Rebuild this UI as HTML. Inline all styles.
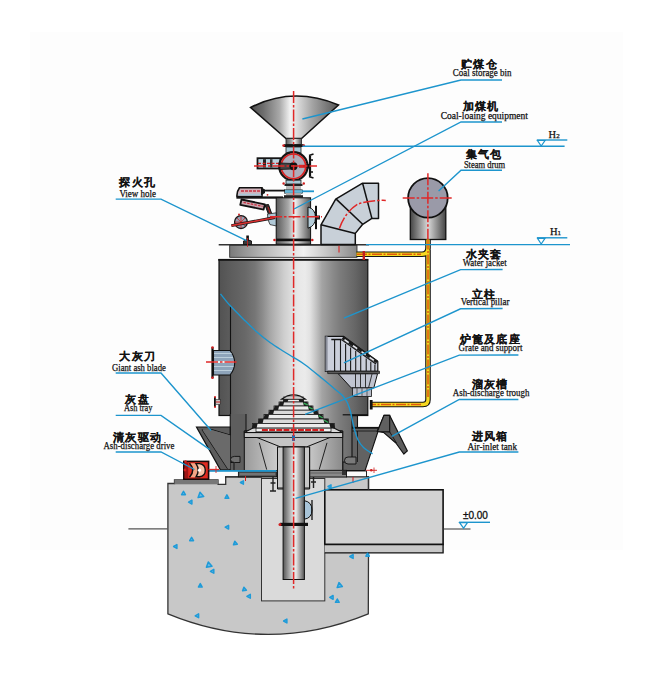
<!DOCTYPE html>
<html><head><meta charset="utf-8">
<style>
html,body{margin:0;padding:0;background:#fff;}
body{width:654px;height:680px;overflow:hidden;}
svg{display:block;}
.cn{font-family:"Liberation Sans",sans-serif;font-weight:bold;font-size:10.8px;letter-spacing:1.3px;fill:#111;stroke:#111;stroke-width:0.1;}
.en{font-family:"Liberation Serif",serif;font-size:10px;fill:#111;stroke:#111;stroke-width:0.25;}
.ld{stroke:#1d95cd;stroke-width:1.4;fill:none;}
.k{stroke:#111;fill:none;}
.cl{stroke:#e02828;stroke-width:1.5;stroke-dasharray:12 2 2.5 2;fill:none;}
</style></head>
<body>
<svg width="654" height="680" viewBox="0 0 654 680">
<defs>
 <linearGradient id="gCyl" x1="219" y1="0" x2="368" y2="0" gradientUnits="userSpaceOnUse">
  <stop offset="0.000" stop-color="#525252"/>
  <stop offset="0.074" stop-color="#5c5c5c"/>
  <stop offset="0.174" stop-color="#686868"/>
  <stop offset="0.242" stop-color="#767676"/>
  <stop offset="0.289" stop-color="#8a8a8a"/>
  <stop offset="0.342" stop-color="#a6a6a6"/>
  <stop offset="0.383" stop-color="#b8b8b8"/>
  <stop offset="0.436" stop-color="#cecece"/>
  <stop offset="0.483" stop-color="#dcdcdc"/>
  <stop offset="0.530" stop-color="#e8e8e8"/>
  <stop offset="0.577" stop-color="#ebebeb"/>
  <stop offset="0.611" stop-color="#e2e2e2"/>
  <stop offset="0.651" stop-color="#c4c4c4"/>
  <stop offset="0.691" stop-color="#a4a4a4"/>
  <stop offset="0.765" stop-color="#8a8a8a"/>
  <stop offset="0.812" stop-color="#7c7c7c"/>
  <stop offset="0.913" stop-color="#666666"/>
  <stop offset="1.000" stop-color="#4e4e4e"/>
 </linearGradient>
 <linearGradient id="gHop" x1="250" y1="0" x2="339" y2="0" gradientUnits="userSpaceOnUse">
  <stop offset="0.000" stop-color="#4a4a4a"/>
  <stop offset="0.150" stop-color="#6e6e6e"/>
  <stop offset="0.330" stop-color="#a8a8a8"/>
  <stop offset="0.450" stop-color="#f2f2f2"/>
  <stop offset="0.500" stop-color="#e6e6e6"/>
  <stop offset="0.700" stop-color="#a4a4a4"/>
  <stop offset="0.880" stop-color="#747474"/>
  <stop offset="1.000" stop-color="#555555"/>
 </linearGradient>
 <linearGradient id="gSm" x1="0" y1="0" x2="1" y2="0">
  <stop offset="0" stop-color="#5a5a5a"/>
  <stop offset="0.35" stop-color="#a8a8a8"/>
  <stop offset="0.55" stop-color="#eeeeee"/>
  <stop offset="0.8" stop-color="#9a9a9a"/>
  <stop offset="1" stop-color="#555"/>
 </linearGradient>
 <linearGradient id="gPlate" x1="0" y1="0" x2="1" y2="0">
  <stop offset="0" stop-color="#7a7a7a"/>
  <stop offset="0.25" stop-color="#b4b4b4"/>
  <stop offset="0.58" stop-color="#f2f2f2"/>
  <stop offset="0.85" stop-color="#b0b0b0"/>
  <stop offset="1" stop-color="#888888"/>
 </linearGradient>
 <linearGradient id="gPipe" x1="0" y1="0" x2="1" y2="0">
  <stop offset="0" stop-color="#555"/>
  <stop offset="0.45" stop-color="#d8d8d8"/>
  <stop offset="0.6" stop-color="#e8e8e8"/>
  <stop offset="1" stop-color="#555"/>
 </linearGradient>
 <linearGradient id="gDrum" x1="0" y1="0" x2="1" y2="0">
  <stop offset="0" stop-color="#444"/>
  <stop offset="0.5" stop-color="#d8d8d8"/>
  <stop offset="1" stop-color="#444"/>
 </linearGradient>
 <linearGradient id="gAsh" x1="0" y1="0" x2="1" y2="0">
  <stop offset="0" stop-color="#9a9a9a"/>
  <stop offset="0.5" stop-color="#e4e4e4"/>
  <stop offset="1" stop-color="#8a8a8a"/>
 </linearGradient>
</defs>

<!-- faint background grid area -->
<rect x="30" y="32" width="593" height="518" fill="#fdfdfd"/>

<!-- ================= FOUNDATION ================= -->
<path d="M167.9,483.5 L174.5,483.5 L174.5,480 L218,480 L218,484.3 L225.7,484.3 L225.7,476.7 L368.5,476.7 L368.5,552.8 L368.3,613.8 Q268.1,655 167.9,613.8 Z" fill="#c8c8c8" stroke="#333" stroke-width="1.3"/>
<!-- drive base plate -->
<rect x="174.5" y="480" width="43.5" height="4.3" fill="#777"/>
<!-- inner pit -->
<rect x="261.5" y="478.5" width="63.3" height="122.4" fill="#dadada" stroke="#333" stroke-width="1"/>
<!-- horizontal air duct beam -->
<rect x="324.8" y="489.8" width="118.3" height="54.7" fill="#d2d2d2" stroke="#111" stroke-width="1.6"/>
<path d="M324.8,544.5 L443.1,544.5 L443.1,552.8 L324.8,552.8" fill="#c8c8c8" stroke="#111" stroke-width="1.3"/>
<line x1="368.5" y1="478" x2="368.5" y2="489.8" stroke="#333" stroke-width="1.3"/>
<!-- ground lines -->
<line x1="128.4" y1="528.9" x2="167.9" y2="528.9" stroke="#555" stroke-width="1.2"/>
<line x1="443.8" y1="529" x2="470.5" y2="529" stroke="#555" stroke-width="1.2"/>
<path d="M183.5,491.4 L185.4,494.7 L181.6,494.7 Z M200.0,492.2 L203.7,496.5 L198.1,497.5 Z M188.6,502.1 L191.9,500.2 L191.9,504.0 Z M226.9,494.9 L228.8,498.3 L225.0,498.3 Z M240.4,482.5 L243.4,480.8 L243.4,484.2 Z M225.2,527.2 L228.6,525.3 L228.6,529.1 Z M191.6,537.4 L193.5,540.7 L189.7,540.7 Z M173.6,546.5 L176.9,544.6 L176.9,548.4 Z M234.8,541.2 L237.3,544.2 L233.5,544.8 Z M208.3,561.9 L212.0,566.2 L206.4,567.2 Z M210.4,571.3 L213.8,569.4 L213.8,573.2 Z M200.3,583.6 L202.2,587.0 L198.4,587.0 Z M243.9,587.2 L246.4,590.2 L242.6,590.8 Z M246.9,596.3 L250.3,594.4 L250.3,598.2 Z M195.2,615.8 L198.6,613.9 L198.6,617.7 Z M283.6,621.0 L286.9,619.1 L286.9,622.9 Z M349.8,556.5 L353.1,554.6 L353.1,558.4 Z M367.6,553.2 L369.3,556.2 L365.9,556.2 Z M339.0,582.6 L342.3,586.6 L337.2,587.5 Z M329.8,597.4 L333.1,595.5 L333.1,599.3 Z M337.3,599.0 L339.2,602.3 L335.4,602.3 Z M328.0,486.5 L331.0,484.8 L331.0,488.2 Z" fill="#6ab8e4" stroke="#1f9bd8" stroke-width="1.5" stroke-linejoin="round"/>

<!-- ================= MAIN CYLINDER ================= -->
<rect x="219" y="259.5" width="148.8" height="156" fill="url(#gCyl)" stroke="#111" stroke-width="1.2"/>
<!-- left outer jacket strip -->
<line x1="230.5" y1="306" x2="230.5" y2="415" stroke="#111" stroke-width="1.1"/>

<!-- cover plate -->
<line x1="218.7" y1="244.8" x2="369" y2="244.8" stroke="#333" stroke-width="1.5"/>
<rect x="229.7" y="245.3" width="127.3" height="12" fill="url(#gPlate)" stroke="#222" stroke-width="0.8"/>
<line x1="218.3" y1="259.8" x2="368.2" y2="259.8" stroke="#111" stroke-width="1.8"/>

<!-- ================= HOPPER ================= -->
<path d="M250.5,107.5 Q293,86 338.5,105 L301.5,138.5 L286,138.5 Z" fill="url(#gHop)" stroke="#111" stroke-width="1.5"/>
<rect x="286" y="138.5" width="15.5" height="6" fill="url(#gSm)" stroke="#222" stroke-width="0.8"/>
<rect x="284" y="144.2" width="19.5" height="2.8" fill="#111"/>

<!-- ================= FEEDER ================= -->
<rect x="286" y="147" width="15" height="6" fill="#a9cad8" stroke="#222" stroke-width="0.8"/>
<circle cx="283.6" cy="145.6" r="1.3" fill="#d02020"/><circle cx="303.8" cy="145.6" r="1.3" fill="#d02020"/>
<!-- left actuator -->
<rect x="257.5" y="158.2" width="23" height="10.3" fill="#b8d2de" stroke="#151515" stroke-width="1.8"/>
<rect x="263" y="159.2" width="3" height="8.3" fill="#222"/>
<rect x="270" y="159.2" width="2.5" height="8.3" fill="#333"/>
<line x1="258" y1="163.4" x2="280" y2="163.4" stroke="#d02020" stroke-width="1.2" stroke-dasharray="3 1.5"/>
<circle cx="293.4" cy="166.3" r="14.2" fill="#aeaebc" stroke="#151515" stroke-width="2.2"/>
<circle cx="293.4" cy="166.3" r="12.3" fill="none" stroke="#d82020" stroke-width="1.7"/>
<path d="M280,163 L292,163.5 L292,169 L280,169.5 Z" fill="#444" stroke="#111" stroke-width="0.8"/>
<circle cx="293.5" cy="166.3" r="4" fill="#111"/>
<rect x="299" y="164.8" width="6" height="3" fill="#d02020"/>
<path d="M310,156 L310,176" stroke="#111" stroke-width="2.2"/>
<path d="M309,155.5 L313.5,154 M309,176.5 L313.5,178 M310,160 L313,160 M310,172 L313,172" stroke="#111" stroke-width="1.6"/>
<rect x="306.5" y="164" width="4" height="4.5" fill="#111"/>
<rect x="286" y="180.2" width="15" height="3.8" fill="#a9cad8" stroke="#222" stroke-width="0.8"/>
<rect x="284.5" y="184" width="18" height="2" fill="#222"/>
<rect x="286" y="186" width="15" height="3.8" fill="#b8b8b8"/>
<rect x="284.5" y="189.8" width="18" height="3.4" fill="#6ab8d8" stroke="#222" stroke-width="0.6"/>
<rect x="286" y="193" width="15" height="2.5" fill="#aaa"/>
<rect x="284" y="195.2" width="19" height="2.6" fill="#222"/>
<line x1="302" y1="191.3" x2="314" y2="191.3" stroke="#1d95cd" stroke-width="1.8"/>
<circle cx="283.6" cy="183.5" r="1.2" fill="#d02020"/><circle cx="303.8" cy="183.5" r="1.2" fill="#d02020"/>

<!-- linkage on left -->
<path d="M239.5,187.8 L262,187.8 L262,196.5 L237,196.5 Q236.5,192 239.5,187.8 Z" fill="#d2b4bc" stroke="#111" stroke-width="1.6"/>
<rect x="238.5" y="193.6" width="23" height="2" fill="#a8c8d8"/>
<line x1="241" y1="191" x2="260" y2="191" stroke="#c83040" stroke-width="1.3" stroke-dasharray="3 1"/>
<path d="M261,187.3 L265,189.5 L265,193 L261,195.5 Z" fill="#151515"/>
<line x1="265" y1="190.6" x2="285" y2="190.6" stroke="#151515" stroke-width="1.8"/>
<rect x="236.4" y="196.4" width="46.6" height="2.3" fill="#151515"/>
<circle cx="267.5" cy="194.8" r="0.9" fill="#d02020"/>
<path d="M241.5,199.5 L264.8,204.3 L263.6,209.6 L240.3,204.8 Z" fill="#c9a8b0" stroke="#111" stroke-width="1.8" stroke-linejoin="round"/>
<line x1="243.5" y1="202.4" x2="262.5" y2="206.3" stroke="#c83040" stroke-width="1.3" stroke-dasharray="2.5 1.2"/>
<path d="M265,205 L268.5,204.5 L272.5,216 L269.5,217 Z" fill="#3a2a2a" stroke="#111" stroke-width="1"/>
<line x1="268" y1="207" x2="270.5" y2="214" stroke="#d02020" stroke-width="0.8"/>
<path d="M267.5,214.1 L276.5,212.8 L276.5,226 L270,224.6 Q267,219.5 267.5,214.1 Z" fill="#b0c8d6" stroke="#222" stroke-width="0.8"/>
<circle cx="241" cy="222.1" r="6.4" fill="#98a2b4" stroke="#151515" stroke-width="1.3"/>
<path d="M241,216 L241,228.2 M235,222.1 L247,222.1 M236.8,217.9 L245.2,226.3 M245.2,217.9 L236.8,226.3" stroke="#d02020" stroke-width="0.8"/>
<circle cx="239" cy="214.5" r="1" fill="#d02020"/>
<line x1="231.4" y1="225.6" x2="275.1" y2="217.5" stroke="#151515" stroke-width="3"/>
<line x1="231.4" y1="225.6" x2="275.1" y2="217.5" stroke="#d83030" stroke-width="1.6"/>
<!-- view hole stub -->
<path d="M243.5,244.5 L243.5,241 Q247.5,238.5 251.5,241 L251.5,244.5 Z" fill="#3a3a3a" stroke="#111" stroke-width="0.9"/>
<rect x="246.3" y="235.5" width="2.6" height="5" fill="#111"/>
<line x1="247.5" y1="238" x2="247.5" y2="247" stroke="#d02020" stroke-width="0.8"/>

<!-- small cylinder (coal loading chamber) -->
<rect x="276.2" y="197.8" width="34.4" height="46.4" fill="url(#gSm)" stroke="#111" stroke-width="1"/>
<rect x="276.2" y="238.6" width="34.4" height="2.6" fill="#111"/>
<circle cx="274.5" cy="240" r="1.3" fill="#d02020"/><circle cx="312.3" cy="240" r="1.3" fill="#d02020"/>
<path d="M308,207 Q315.5,209 315.5,217.6 Q315.5,226 308,228.2 Z" fill="#b4ccd8" stroke="#111" stroke-width="1"/>
<rect x="315" y="205.8" width="2" height="23.4" fill="#111"/>
<rect x="317" y="215.5" width="3" height="4" fill="#222"/>

<!-- ================= ELBOW ================= -->
<path d="M321,224.8 L335.7,199.1 L362.6,183.2 L378.5,183.2 L378.5,218.4 L371.9,218.4 L362.7,224.3 L355.3,233.4 L355.3,244.4 L321,244.4 Z" fill="#c8d0d8" stroke="#111" stroke-width="1.5" stroke-linejoin="round"/>
<line x1="321" y1="224.8" x2="355.3" y2="233.4" stroke="#111" stroke-width="1.5"/>
<line x1="336.2" y1="199.1" x2="362.7" y2="224.3" stroke="#111" stroke-width="1.5"/>
<line x1="362.6" y1="183.2" x2="371.9" y2="218.4" stroke="#111" stroke-width="1.5"/>
<line x1="339" y1="245.8" x2="339" y2="252.5" stroke="#d83030" stroke-width="1.2"/>
<path d="M339.4,228.5 Q345,212 358,204 Q370,200 385.8,200.4" class="cl"/>

<!-- ================= STEAM DRUM ================= -->
<rect x="410.3" y="199" width="35.5" height="40.5" fill="url(#gDrum)" stroke="#111" stroke-width="1.3"/>
<circle cx="427.9" cy="197.9" r="19.8" fill="#9a9aa8" stroke="#111" stroke-width="1.8"/>
<line x1="402.7" y1="198.1" x2="453" y2="198.1" class="cl"/>
<line x1="427.9" y1="173.3" x2="427.9" y2="240.6" class="cl"/>

<!-- ================= YELLOW PIPE ================= -->
<path d="M356.5,254.2 L422,254.2 Q428,254.2 428,248 L428,239.5 M428,250 L428,399.5 Q428,404.5 423,404.5 L370,404.5" fill="none" stroke="#151515" stroke-width="5.6"/>
<path d="M356.5,254.2 L422,254.2 Q428,254.2 428,248 L428,239.5 M428,250 L428,399.5 Q428,404.5 423,404.5 L370,404.5" fill="none" stroke="#f6d820" stroke-width="3.4"/>
<path d="M357,254.2 L421,254.2 M428,239.5 L428,397 M421,404.5 L372,404.5" fill="none" stroke="#e05810" stroke-width="1.5" stroke-dasharray="10 1.5 2 1.5"/>
<rect x="362.6" y="251" width="2.4" height="9" fill="#c02020"/>
<rect x="369.8" y="400" width="2.8" height="9.5" fill="#111"/>

<!-- ================= PILLAR / GRATE SUPPORT ================= -->
<path d="M325.4,336.3 L343.7,336.3 L377.8,361.5 L377.8,371.4 L325.4,371.4 Z" fill="#cbcfdb" stroke="#111" stroke-width="1.2"/>
<rect x="325.4" y="336.3" width="2.2" height="35" fill="#8a8e9a"/>
<path d="M331.3,339.5 L341.4,339.5" stroke="#111" stroke-width="1.5"/>
<path d="M334.6,339.5 L334.6,371.4 M340.5,339.5 L340.5,371.4 M345.6,344.0 L345.6,371.4 M350.6,347.5 L350.6,371.4 M355.7,351.1 L355.7,371.4 M360.7,354.6 L360.7,371.4 M366.2,358.4 L366.2,371.4 M370.8,361.7 L370.8,371.4 M374.9,364.5 L374.9,371.4" stroke="#1a1a1a" stroke-width="1.1"/>
<path d="M341.4,339.5 L376,364" stroke="#1a1a1a" stroke-width="1.3"/>
<path d="M342.6,337.6 L377.2,362" stroke="#1a1a1a" stroke-width="3.2"/>
<path d="M344.5,339.7 L348.7,342.7 M353.0,345.6 L357.2,348.6 M361.5,351.6 L365.7,354.6 M369.6,357.4 L373.9,360.3" stroke="#e8eaf0" stroke-width="1.6"/>
<path d="M327.7,371.2 L379.5,371.2 L379.5,373.6 L327.7,373.6 Z" fill="#5a5a5a" stroke="#111" stroke-width="0.7"/>
<path d="M338.3,373.8 L377.5,373.8 L373.8,387.9 L351.2,387.9 Z" fill="#c0c4d0" stroke="#111" stroke-width="1"/>
<path d="M355.5,374 L355.5,388 M360.5,374 L360.5,388 M365.5,374 L365.5,388 M372,374 L368.5,388" stroke="#222" stroke-width="0.9"/>
<rect x="352.4" y="387.9" width="19" height="8.6" fill="#b8bcc8" stroke="#111" stroke-width="0.8"/>
<path d="M357,388 L357,396.5 M362,388 L362,396.5 M367,388 L367,396.5" stroke="#333" stroke-width="0.7"/>

<!-- left side port -->
<rect x="211.4" y="347.2" width="2.2" height="31" fill="#111"/>
<circle cx="212.5" cy="347.5" r="1.3" fill="#d02020"/><circle cx="212.5" cy="377.8" r="1.3" fill="#d02020"/>
<path d="M213.5,350.5 L230,350.5 Q234.7,356 234.7,362.7 Q234.7,369.5 230,375 L213.5,375 Z" fill="#8ea4ba" stroke="#111" stroke-width="1.1"/>
<path d="M214,353.5 L231.5,353.5 M214,357.5 L233,357.5 M214,366.5 L233.5,366.5 M214,370.5 L232,370.5" stroke="#bccfdc" stroke-width="1"/>
<line x1="214" y1="362" x2="234" y2="362" stroke="#f0f0f0" stroke-width="2"/>
<line x1="206" y1="362" x2="238" y2="362" class="cl"/>
<rect x="214" y="397" width="1.8" height="10" fill="#111"/>
<rect x="215.8" y="399.5" width="4.4" height="5" fill="#c8c8c8" stroke="#111" stroke-width="0.5"/>
<line x1="215.8" y1="402" x2="220.2" y2="402" stroke="#d02020" stroke-width="1"/>
<circle cx="215" cy="397" r="1" fill="#d02020"/><circle cx="215" cy="407" r="1" fill="#d02020"/>

<!-- ================= ASH REGION ================= -->
<!-- inner lower body -->
<rect x="230.4" y="414" width="122" height="57" fill="url(#gCyl)"/>
<!-- left jacket bottom column -->
<path d="M230.2,414 L246,414 L246,470.6 L234,470.6 L234,462.5 L230.2,462.5 Z" fill="#5e5e5e"/>
<path d="M246,414 L246,470.6 L234,470.6 L234,462.5 L230.2,462.5 L230.2,414" fill="none" stroke="#111" stroke-width="1"/>
<path d="M240,456.4 L234.5,456.4 Q230.5,456.4 230.5,459.5 Q230.5,462.5 234.5,462.5 L240,462.5 Z" fill="#707070" stroke="#111" stroke-width="0.9"/>
<!-- left ash tray -->
<path d="M196.5,427 L230.2,427 L230.2,469.8 L220.4,469.8 Z" fill="#5c5c5c" stroke="#111" stroke-width="1.2"/>
<path d="M209.4,428.9 L230.2,435" stroke="#111" stroke-width="1"/>
<path d="M202,429.5 L227.7,468.6" stroke="#111" stroke-width="1.1"/>
<path d="M209.4,429.2 L230.2,435.3 L230.2,469 L227.7,468.6 L202.5,430 Z" fill="#6a6a6a"/>
<!-- right ash pan -->
<rect x="342.7" y="414" width="9.5" height="57" fill="url(#gCyl)"/>
<path d="M352,415.8 L357.5,415.8 L357.5,427.5 L378.2,427.5 L378.2,431 L365,470.6 L342.7,470.6 L342.7,462 L352,462 Z" fill="#626262" stroke="#111" stroke-width="1.1"/>
<path d="M356,457 L348,457 Q344.5,457 344.5,460.5 Q344.5,464 348,464 L356,464 Z" fill="#7a7a7a" stroke="#111" stroke-width="0.9"/>
<line x1="357.5" y1="431" x2="357.5" y2="462" stroke="#111" stroke-width="0.8"/>
<line x1="352" y1="427.8" x2="379" y2="427.8" stroke="#111" stroke-width="1.8"/>
<line x1="352" y1="431" x2="378.2" y2="431" stroke="#111" stroke-width="0.8"/>
<line x1="342.7" y1="414.8" x2="368" y2="414.8" stroke="#111" stroke-width="1.2"/>
<!-- ash trough -->
<path d="M377.4,431.5 L384,415.4 L389.7,415.4 L407.4,450.9 L403.8,454 L395.9,443 L383.5,432.4 Z" fill="#5c5c5c" stroke="#111" stroke-width="1.2" stroke-linejoin="round"/>
<path d="M377.4,431.5 L384,415.4 L389.7,415.4 L389.7,431.9 Z" fill="#606060" stroke="#111" stroke-width="1.1"/>
<path d="M389.7,431.9 L396.5,443" stroke="#111" stroke-width="0.9"/>

<!-- ash housing below dish -->
<path d="M244.3,431 L342.7,431 L342.7,470.6 L244.3,470.6 Z" fill="url(#gAsh)" stroke="#111" stroke-width="1"/>
<path d="M259.3,442.8 L266.7,469.6 M327,442.8 L319.2,469.6" stroke="#111" stroke-width="0.9"/>
<!-- ash pan dish -->
<path d="M244.3,431 L342.7,431 L342.7,437.5 L330,437.5 L306.4,447 L280.7,447 L257,437.5 L244.3,437.5 Z" fill="#c4c4c4" stroke="#111" stroke-width="1"/>
<line x1="244.3" y1="437.5" x2="342.7" y2="437.5" stroke="#111" stroke-width="0.8"/>
<!-- grate -->
<path d="M244.3,432.5 L256,426.5 L331,426.5 L342.7,432.5 Z" fill="#d8d8d8" stroke="#111" stroke-width="1.1"/>
<rect x="283.5" y="398.5" width="20.0" height="3.5" fill="#ececec" stroke="#222" stroke-width="0.8"/>
<path d="M282.7,402.3 L284.3,398.2 L288.7,398.2 L287.5,402.3 Z" fill="#1c1c1c"/>
<path d="M304.3,402.3 L302.7,398.2 L298.3,398.2 L299.5,402.3 Z" fill="#1c1c1c"/>
<rect x="279.0" y="402.0" width="29.0" height="4.0" fill="#dadada" stroke="#222" stroke-width="0.8"/>
<path d="M278.2,406.3 L279.8,401.7 L284.2,401.7 L283.0,406.3 Z" fill="#1c1c1c"/>
<path d="M308.8,406.3 L307.2,401.7 L302.8,401.7 L304.0,406.3 Z" fill="#1c1c1c"/>
<line x1="303.6" y1="403.2" x2="307.8" y2="405.0" stroke="#35a855" stroke-width="1.4"/>
<rect x="274.0" y="406.0" width="39.0" height="4.2" fill="#ececec" stroke="#222" stroke-width="0.8"/>
<path d="M273.2,410.5 L274.8,405.7 L279.2,405.7 L278.0,410.5 Z" fill="#1c1c1c"/>
<path d="M313.8,410.5 L312.2,405.7 L307.8,405.7 L309.0,410.5 Z" fill="#1c1c1c"/>
<line x1="308.6" y1="407.2" x2="312.8" y2="409.2" stroke="#35a855" stroke-width="1.4"/>
<rect x="269.0" y="410.2" width="49.0" height="4.3" fill="#dadada" stroke="#222" stroke-width="0.8"/>
<path d="M268.2,414.8 L269.8,409.9 L274.2,409.9 L273.0,414.8 Z" fill="#1c1c1c"/>
<path d="M318.8,414.8 L317.2,409.9 L312.8,409.9 L314.0,414.8 Z" fill="#1c1c1c"/>
<rect x="264.0" y="414.5" width="59.0" height="4.5" fill="#ececec" stroke="#222" stroke-width="0.8"/>
<path d="M263.2,419.3 L264.8,414.2 L269.2,414.2 L268.0,419.3 Z" fill="#1c1c1c"/>
<path d="M323.8,419.3 L322.2,414.2 L317.8,414.2 L319.0,419.3 Z" fill="#1c1c1c"/>
<line x1="318.6" y1="415.7" x2="322.8" y2="418.0" stroke="#35a855" stroke-width="1.4"/>
<rect x="258.5" y="419.0" width="70.0" height="4.5" fill="#dadada" stroke="#222" stroke-width="0.8"/>
<path d="M257.7,423.8 L259.3,418.7 L263.7,418.7 L262.5,423.8 Z" fill="#1c1c1c"/>
<path d="M329.3,423.8 L327.7,418.7 L323.3,418.7 L324.5,423.8 Z" fill="#1c1c1c"/>
<line x1="324.1" y1="420.2" x2="328.3" y2="422.5" stroke="#35a855" stroke-width="1.4"/>
<rect x="252.5" y="423.5" width="82.0" height="4.5" fill="#ececec" stroke="#222" stroke-width="0.8"/>
<path d="M251.7,428.3 L253.3,423.2 L257.7,423.2 L256.5,428.3 Z" fill="#1c1c1c"/>
<path d="M335.3,428.3 L333.7,423.2 L329.3,423.2 L330.5,428.3 Z" fill="#1c1c1c"/>
<path d="M281.5,399.2 Q293.5,390.5 305.5,399.2 Z" fill="#e4e4e4" stroke="#111" stroke-width="1.1"/>
<path d="M283,396.8 L304,396.8" stroke="#555" stroke-width="0.6"/>
<rect x="256" y="428.2" width="75" height="3.6" fill="#f2f2f2" stroke="#111" stroke-width="0.7"/>
<line x1="261.9" y1="430" x2="324" y2="430" stroke="#d02020" stroke-width="1.8" stroke-dasharray="6 1.2"/>
<line x1="244.3" y1="432.6" x2="342.7" y2="432.6" stroke="#111" stroke-width="1"/>
<rect x="292" y="435" width="3" height="6" fill="#2a6ab0"/>

<!-- central pipe -->
<rect x="277.5" y="447" width="32.1" height="41" fill="#c8c8c8" stroke="#111" stroke-width="1"/>
<rect x="283.1" y="447" width="21.3" height="132.5" fill="url(#gPipe)" stroke="#111" stroke-width="1"/>
<rect x="280" y="522.8" width="28" height="3.2" fill="#111"/>
<circle cx="280" cy="524.4" r="1.5" fill="#d02020"/>
<path d="M304.4,500.7 Q312,502 312,510 Q312,518 304.4,519.2 Z" fill="#a8c4d8" stroke="#111" stroke-width="1"/>
<line x1="312" y1="500" x2="312" y2="520" stroke="#111" stroke-width="1.3"/>
<!-- rails under ash floor -->
<path d="M273,476 L273,491 M270.5,483 L275.5,483 M270,491 L276,491" stroke="#222" stroke-width="1.4"/>
<path d="M313.5,476 L313.5,488 M311,482 L316,482" stroke="#222" stroke-width="1.4"/>
<path d="M277.5,447 L277.5,489 L283,489 M309.6,447 L309.6,489 L304.4,489" stroke="#111" stroke-width="1" fill="none"/>

<!-- bottom plates of ash section -->
<rect x="225" y="471.6" width="14" height="5" fill="#fafafa"/>
<line x1="225" y1="476.9" x2="262" y2="476.9" stroke="#111" stroke-width="1.2"/>
<rect x="238.4" y="471.8" width="38" height="5" fill="#5a5a5a" stroke="#111" stroke-width="0.9"/>
<line x1="240" y1="474" x2="275" y2="474" stroke="#9a9a9a" stroke-width="0.8"/>
<rect x="309.8" y="470.3" width="36.7" height="6.7" fill="#8a8a8a" stroke="#111" stroke-width="0.9"/>
<line x1="310" y1="473" x2="346" y2="473" stroke="#555" stroke-width="0.8"/>
<rect x="346.5" y="471" width="20" height="5.8" fill="#fafafa" stroke="#111" stroke-width="0.9"/>
<rect x="342" y="471" width="4" height="4" fill="#333"/>
<line x1="353" y1="477" x2="353" y2="483" stroke="#d02020" stroke-width="1"/>
<rect x="209" y="470" width="67.4" height="1.8" fill="#1d95cd"/>
<circle cx="371.3" cy="470.3" r="1.3" fill="#d02020"/>
<line x1="366" y1="470.3" x2="377" y2="470.3" stroke="#d02020" stroke-width="0.9"/>
<line x1="374" y1="467.5" x2="374" y2="473" stroke="#d02020" stroke-width="0.8"/>
<line x1="245.5" y1="476" x2="245.5" y2="481" stroke="#d02020" stroke-width="1"/>

<!-- ash discharge drive -->
<rect x="183.8" y="461.4" width="24.8" height="17.8" fill="#e02a20" stroke="#1a0808" stroke-width="1.6"/>
<rect x="185" y="462.6" width="3.2" height="15.4" fill="#a01515"/>
<path d="M190,463.3 Q196.5,470.2 190,477.2 L197,477.2 Q203,470.2 197,463.3 Z" fill="#f2a585"/>
<path d="M196,463.6 L199.5,463.6 Q205.3,464.5 205.3,470.2 Q205.3,476 199.5,476.8 L196,476.8 Q200.5,470.2 196,463.6 Z" fill="#f6c2a8" stroke="#111" stroke-width="1.4"/>
<path d="M189.5,463.3 Q196,470.2 189.5,477.2" fill="none" stroke="#111" stroke-width="1.4"/>
<circle cx="199.5" cy="470.2" r="1.6" fill="#fff"/>
<line x1="208.6" y1="469.5" x2="219" y2="469.5" stroke="#d83030" stroke-width="1.3"/>
<line x1="216" y1="466" x2="216" y2="473" stroke="#d83030" stroke-width="0.9"/>
<circle cx="185" cy="470" r="1.4" fill="#d02020"/>
<circle cx="185.5" cy="461.5" r="1.2" fill="#d02020"/>

<!-- ================= CENTER LINE ================= -->
<line x1="293.6" y1="91" x2="293.6" y2="590" class="cl"/>
<line x1="254" y1="166" x2="317" y2="166" class="cl"/>
<line x1="270" y1="216.7" x2="322" y2="216.7" class="cl"/>

<!-- big blue curve -->
<path d="M220.5,293.9 C222.1,295.8 226.4,301.6 230.1,305.6 C233.8,309.7 238.1,313.9 242.5,318.2 C246.9,322.5 251.7,327.4 256.3,331.5 C260.9,335.6 265.4,339.2 270.0,342.5 C274.6,345.8 279.9,349.0 283.8,351.5 C287.7,354.0 289.9,355.1 293.4,357.3 C296.9,359.5 300.2,361.2 305.0,364.7 C309.8,368.2 317.0,374.2 322.0,378.3 C327.0,382.4 331.6,386.3 335.0,389.2 C338.4,392.1 340.4,393.2 342.5,395.5 C344.6,397.8 346.2,400.2 347.5,403.0 C348.8,405.8 349.7,409.0 350.5,412.0 C351.3,415.0 351.8,417.8 352.5,421.0 C353.2,424.2 354.1,428.3 355.0,431.5 C355.9,434.7 356.6,437.3 358.0,440.0 C359.4,442.7 361.1,445.2 363.5,447.5 C365.9,449.8 371.0,452.8 372.5,453.8" class="ld" stroke-width="1.8"/>

<!-- ================= LEADERS ================= -->
<path class="ld" d="M502,80 L461,80 L302.4,119"/>
<path class="ld" d="M502,122 L461,122 L294,209"/>
<path class="ld" d="M502,170.3 L461,170.3 L438.6,191"/>
<path class="ld" d="M302.4,146.2 L564.6,146.2"/>
<path class="ld" d="M536.8,140 L567.3,140"/>
<path d="M537.5,140.5 L545,140.5 L541.2,146 Z" fill="none" stroke="#1d95cd" stroke-width="1.2"/>
<path class="ld" d="M366,244.6 L570,244.6"/>
<path class="ld" d="M537,237.8 L567.3,237.8"/>
<path d="M537.5,238.4 L545,238.4 L541.2,244 Z" fill="none" stroke="#1d95cd" stroke-width="1.2"/>
<path class="ld" d="M502.6,269.5 L460.6,269.6 L343.9,318.2"/>
<path class="ld" d="M502.6,308.5 L460.6,308.8 L343.9,362.8"/>
<path class="ld" d="M518.4,355 L459.3,355.1 L305.1,414.3"/>
<path class="ld" d="M518.4,399.5 L459.3,399.5 L391.8,436.3"/>
<path class="ld" d="M518.4,452 L459.3,452 L295.5,498.3"/>
<path class="ld" d="M115.7,199.1 L161,199.1 L246.6,240.7"/>
<path class="ld" d="M115.7,373 L161,373 L211.1,430.5"/>
<path class="ld" d="M115.7,415.4 L161,415.4 L209.9,449.6"/>
<path class="ld" d="M115.7,452 L161,452 L194.5,469.5"/>
<!-- ±0.00 -->
<path class="ld" d="M459,522.3 L490,522.3"/>
<path d="M459.5,522.6 L467.5,522.6 L463.6,528.2 Z" fill="none" stroke="#1d95cd" stroke-width="1.2"/>

<!-- ================= TEXT ================= -->
<g class="cn" text-anchor="middle">
 <text x="479.5" y="67.6">贮煤仓</text>
 <text x="481" y="109.6">加煤机</text>
 <text x="484" y="157.5">集气包</text>
 <text x="484" y="257.6">水夹套</text>
 <text x="484" y="298">立柱</text>
 <text x="490.3" y="342.6">炉篦及底座</text>
 <text x="490" y="387.5">溜灰槽</text>
 <text x="490" y="439.5">进风箱</text>
 <text x="137.7" y="185.5">探火孔</text>
 <text x="137.7" y="359.5">大灰刀</text>
 <text x="137.7" y="403">灰盘</text>
 <text x="137.7" y="440.5">清灰驱动</text>
</g>
<g class="en">
 <text x="452.8" y="75.5" textLength="58.7" lengthAdjust="spacingAndGlyphs">Coal storage bin</text>
 <text x="440.7" y="118.6" textLength="87.3" lengthAdjust="spacingAndGlyphs">Coal-loaing equipment</text>
 <text x="463.9" y="167.5" textLength="41.2" lengthAdjust="spacingAndGlyphs">Steam drum</text>
 <text x="462.7" y="265.8" textLength="44" lengthAdjust="spacingAndGlyphs">Water jacket</text>
 <text x="460.7" y="305" textLength="48.8" lengthAdjust="spacingAndGlyphs">Vertical pillar</text>
 <text x="458.6" y="351" textLength="63.9" lengthAdjust="spacingAndGlyphs">Grate and support</text>
 <text x="452.8" y="395.5" textLength="76.6" lengthAdjust="spacingAndGlyphs">Ash-discharge trough</text>
 <text x="467.4" y="450" textLength="49.6" lengthAdjust="spacingAndGlyphs">Air-inlet tank</text>
 <text x="119.4" y="196.5" textLength="36.6" lengthAdjust="spacingAndGlyphs">View hole</text>
 <text x="112" y="370.8" textLength="53.8" lengthAdjust="spacingAndGlyphs">Giant ash blade</text>
 <text x="124" y="410.5" textLength="28.4" lengthAdjust="spacingAndGlyphs">Ash tray</text>
 <text x="103.5" y="448.5" textLength="70.9" lengthAdjust="spacingAndGlyphs">Ash-discharge drive</text>
 <text x="550" y="235" font-size="10.5">H<tspan font-size="7">1</tspan></text>
 <text x="548.6" y="137.7" font-size="10.5">H<tspan font-size="7">2</tspan></text>
</g>
<text x="462.9" y="519.4" font-family="Liberation Sans, sans-serif" font-size="10" fill="#111" stroke="#111" stroke-width="0.3" textLength="25" lengthAdjust="spacingAndGlyphs">±0.00</text>

</svg>
</body></html>
